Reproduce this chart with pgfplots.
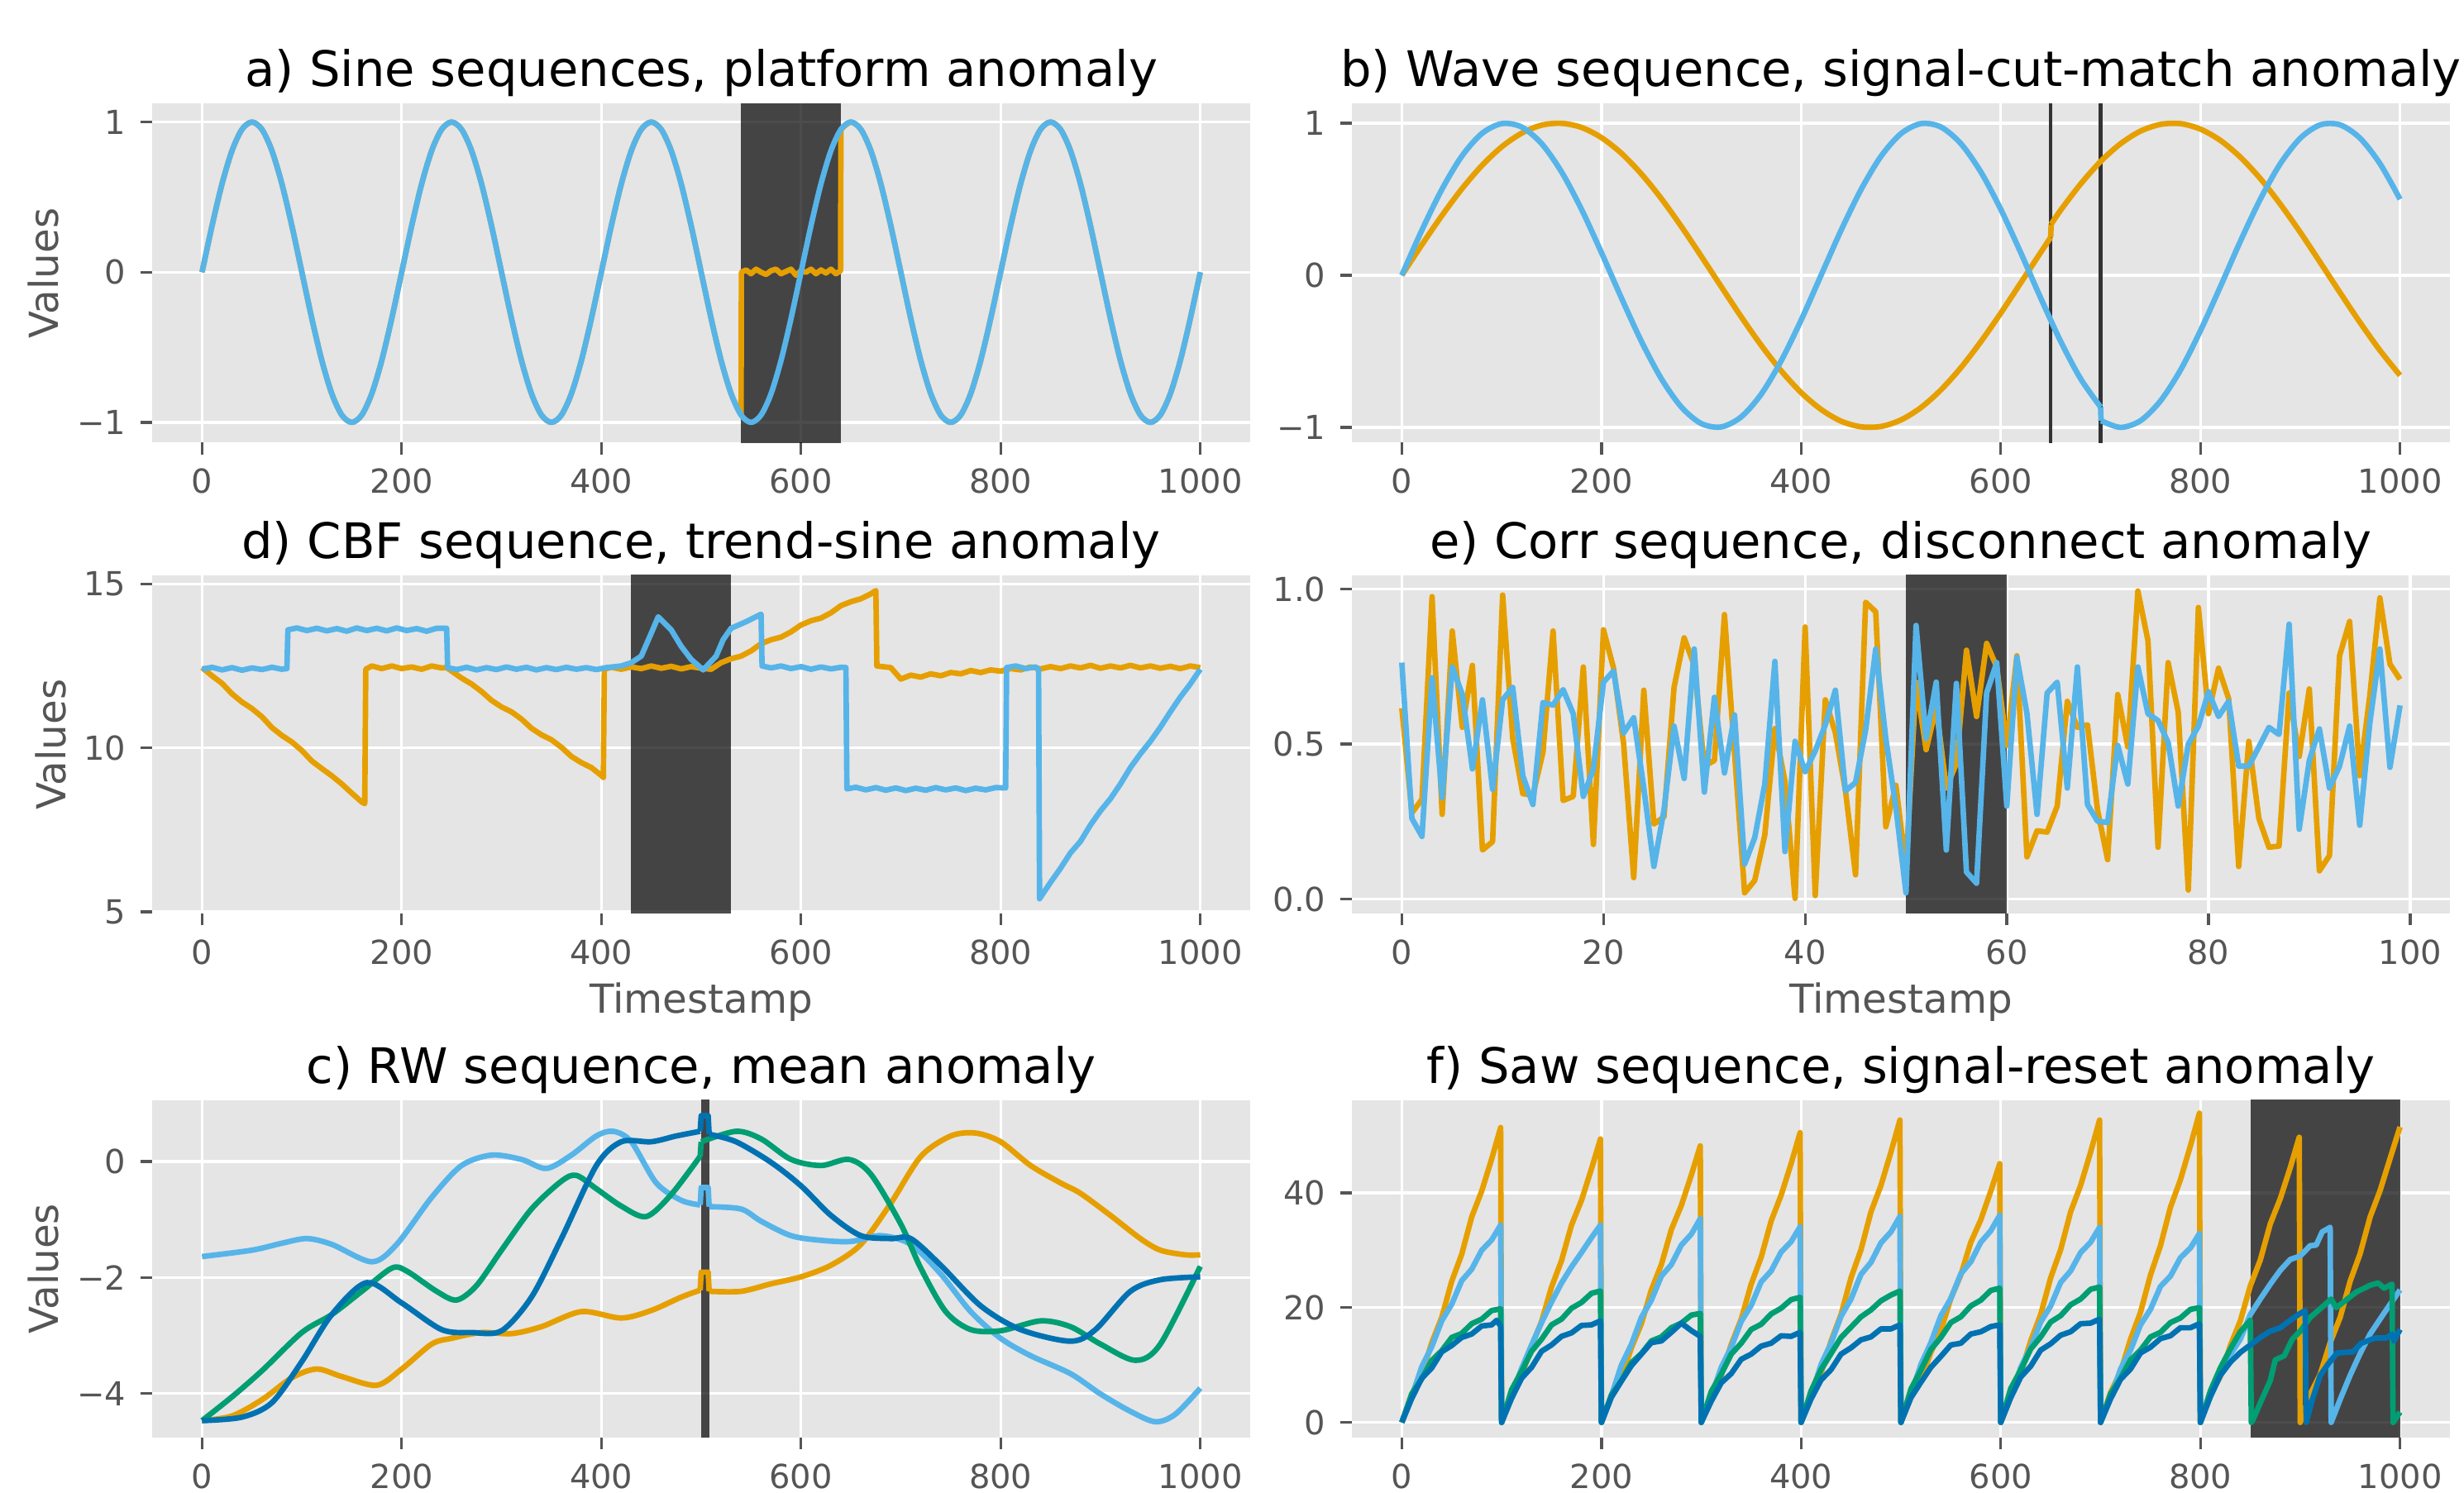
\documentclass[border=0pt]{standalone}
\usepackage{fontspec}
\setmainfont{DejaVu Sans}
\usepackage{pgfplots}
\pgfplotsset{compat=1.18}
\definecolor{cOr}{HTML}{E69F00}
\definecolor{cSky}{HTML}{56B4E9}
\definecolor{cGr}{HTML}{009E73}
\definecolor{cBl}{HTML}{0072B2}
\definecolor{bgG}{HTML}{E5E5E5}
\definecolor{tkG}{HTML}{555555}
\newcommand\tks{\fontsize{9.6pt}{11pt}\selectfont}
\newcommand\lbs{\fontsize{11.6pt}{13pt}\selectfont}
\newcommand\tts{\fontsize{14.2pt}{17pt}\selectfont}
\pgfplotsset{
 panel/.style={
  scale only axis, width=318.72pt,
  axis background/.style={fill=bgG},
  axis line style={draw=none},
  grid=major, major grid style={draw=white, line width=0.8pt},
  tick align=outside, tick pos=left, major tick length=3.4pt,
  tick style={draw=tkG, line width=0.8pt},
  tick label style={font=\tks, text=tkG},
  xticklabel style={anchor=north, inner sep=0pt, yshift=-4pt},
  yticklabel style={anchor=east, inner sep=0pt, xshift=-4pt},
  title style={font=\tts, text=black, at={(axis description cs:0.5,1)}, anchor=base, yshift=-1pt},
  label style={font=\lbs, text=tkG},
  xmin=-50, xmax=1050,
  xtick={0,200,400,600,800,1000}, xticklabels={0,200,400,600,800,1000},
  anchor=south west, no markers,
 },
 ln/.style={line width=1.6pt, line join=round},
 shd/.style={draw=none, fill=black, fill opacity=0.7, forget plot},
}
\begin{document}
\begin{tikzpicture}
\path[use as bounding box] (0,0) rectangle (715.2pt,433.44pt);

% ---------------- a)
\begin{axis}[panel, at={(44.16pt,304.92pt)}, height=98.4pt,
  ymin=-1.135, ymax=1.122, ytick={-1,0,1}, yticklabels={−1,0,1},
  title={a) Sine sequences, platform anomaly},
  ylabel={Values}, ylabel style={at={(axis description cs:-0.0989,0.5)}, anchor=center}]
\addplot[shd] coordinates {(540,-5) (640,-5) (640,5) (540,5)};
\addplot[ln, cOr, smooth] coordinates {(0,0) (10,0.309) (20,0.588) (30,0.809) (40,0.951) (50,1) (60,0.951) (70,0.809) (80,0.588) (90,0.309) (100,0) (110,-0.309) (120,-0.588) (130,-0.809) (140,-0.951) (150,-1) (160,-0.951) (170,-0.809) (180,-0.588) (190,-0.309)
(200,0) (210,0.309) (220,0.588) (230,0.809) (240,0.951) (250,1) (260,0.951) (270,0.809) (280,0.588) (290,0.309) (300,0) (310,-0.309) (320,-0.588) (330,-0.809) (340,-0.951) (350,-1) (360,-0.951) (370,-0.809) (380,-0.588) (390,-0.309)
(400,0) (410,0.309) (420,0.588) (430,0.809) (440,0.951) (450,1) (460,0.951) (470,0.809) (480,0.588) (490,0.309) (500,0) (510,-0.309) (520,-0.588) (530,-0.809) (540,-0.951)};
\addplot[ln, cOr] coordinates {(540,-0.951) (540.3,0.0) (545,0.015) (550,-0.01) (555,0.02) (560,0.0) (565,-0.015) (570,0.01) (575,0.02) (580,-0.01) (585,0.005) (590,0.02) (595,-0.02) (600,0.01) (605,0.0) (610,0.02) (615,-0.01) (620,0.015) (625,-0.005) (630,0.02) (635,-0.01) (639.7,0.01) (640,0.951)};
\addplot[ln, cOr, smooth] coordinates {(640,0.951) (650,1) (660,0.951) (670,0.809) (680,0.588) (690,0.309) (700,0) (710,-0.309) (720,-0.588) (730,-0.809) (740,-0.951) (750,-1) (760,-0.951) (770,-0.809) (780,-0.588) (790,-0.309)
(800,0) (810,0.309) (820,0.588) (830,0.809) (840,0.951) (850,1) (860,0.951) (870,0.809) (880,0.588) (890,0.309) (900,0) (910,-0.309) (920,-0.588) (930,-0.809) (940,-0.951) (950,-1) (960,-0.951) (970,-0.809) (980,-0.588) (990,-0.309) (1000,0)};
\addplot[ln, cSky, smooth] coordinates {(0,0) (10,0.309) (20,0.588) (30,0.809) (40,0.951) (50,1) (60,0.951) (70,0.809) (80,0.588) (90,0.309) (100,0) (110,-0.309) (120,-0.588) (130,-0.809) (140,-0.951) (150,-1) (160,-0.951) (170,-0.809) (180,-0.588) (190,-0.309)
(200,0) (210,0.309) (220,0.588) (230,0.809) (240,0.951) (250,1) (260,0.951) (270,0.809) (280,0.588) (290,0.309) (300,0) (310,-0.309) (320,-0.588) (330,-0.809) (340,-0.951) (350,-1) (360,-0.951) (370,-0.809) (380,-0.588) (390,-0.309)
(400,0) (410,0.309) (420,0.588) (430,0.809) (440,0.951) (450,1) (460,0.951) (470,0.809) (480,0.588) (490,0.309) (500,0) (510,-0.309) (520,-0.588) (530,-0.809) (540,-0.951) (550,-1) (560,-0.951) (570,-0.809) (580,-0.588) (590,-0.309)
(600,0) (610,0.309) (620,0.588) (630,0.809) (640,0.951) (650,1) (660,0.951) (670,0.809) (680,0.588) (690,0.309) (700,0) (710,-0.309) (720,-0.588) (730,-0.809) (740,-0.951) (750,-1) (760,-0.951) (770,-0.809) (780,-0.588) (790,-0.309)
(800,0) (810,0.309) (820,0.588) (830,0.809) (840,0.951) (850,1) (860,0.951) (870,0.809) (880,0.588) (890,0.309) (900,0) (910,-0.309) (920,-0.588) (930,-0.809) (940,-0.951) (950,-1) (960,-0.951) (970,-0.809) (980,-0.588) (990,-0.309) (1000,0)};
\end{axis}

% ---------------- b)
\begin{axis}[panel, at={(392.4pt,304.92pt)}, height=98.4pt,
  ymin=-1.1005, ymax=1.128, ytick={-1,0,1}, yticklabels={−1,0,1},
  title={b) Wave sequence, signal-cut-match anomaly}]
\addplot[forget plot, draw=black!80, line width=1pt] coordinates {(650,-5) (650,5)};
\addplot[forget plot, draw=black!80, line width=1pt] coordinates {(700,-5) (700,5)};
\addplot[ln, cOr, smooth] coordinates {(0,0) (20,0.200) (40,0.391) (60,0.567) (80,0.720) (100,0.844) (120,0.934) (140,0.987) (160,0.999) (180,0.972) (200,0.905) (220,0.802) (240,0.666) (260,0.504) (280,0.321) (300,0.125) (320,-0.075) (340,-0.273) (360,-0.460) (380,-0.628) (400,-0.771) (420,-0.882) (440,-0.959) (460,-0.996) (480,-0.994) (500,-0.951) (520,-0.870) (540,-0.754) (560,-0.608) (580,-0.437) (600,-0.249) (620,-0.050) (640,0.150) (650,0.249)};
\addplot[ln, cOr] coordinates {(650,0.249) (650.5,0.335)};
\addplot[ln, cOr, smooth] coordinates {(650.5,0.335) (660,0.428) (680,0.600) (700,0.748) (720,0.865) (740,0.948) (760,0.992) (780,0.997) (800,0.961) (820,0.887) (840,0.777) (860,0.636) (880,0.468) (900,0.283) (920,0.085) (940,-0.115) (960,-0.311) (980,-0.495) (1000,-0.658)};
\addplot[ln, cSky, smooth] coordinates {(0,0) (20,0.295) (40,0.563) (60,0.782) (80,0.931) (100,0.997) (120,0.975) (140,0.866) (160,0.680) (180,0.434) (200,0.149) (220,-0.149) (240,-0.434) (260,-0.680) (280,-0.866) (300,-0.975) (320,-0.997) (340,-0.931) (360,-0.782) (380,-0.563) (400,-0.295) (420,0) (440,0.295) (460,0.563) (480,0.782) (500,0.931) (520,0.997) (540,0.975) (560,0.866) (580,0.680) (600,0.434) (620,0.149) (640,-0.149) (660,-0.434) (680,-0.680) (700,-0.866)};
\addplot[ln, cSky] coordinates {(700,-0.866) (700.5,-0.956)};
\addplot[ln, cSky, smooth] coordinates {(700.5,-0.956) (720,-1) (740,-0.956) (760,-0.826) (780,-0.624) (800,-0.365) (820,-0.075) (840,0.223) (860,0.5) (880,0.733) (900,0.901) (920,0.989) (940,0.989) (960,0.901) (980,0.733) (1000,0.5)};
\end{axis}

% ---------------- d)
\begin{axis}[panel, at={(44.16pt,168.24pt)}, height=98.16pt,
  ymin=4.95, ymax=15.264, ytick={5,10,15}, yticklabels={5,10,15},
  title={d) CBF sequence, trend-sine anomaly},
  ylabel={Values}, ylabel style={at={(axis description cs:-0.0919,0.5)}, anchor=center},
  xlabel={Timestamp}, xlabel style={at={(axis description cs:0.5,-0.262)}, anchor=center}]
\addplot[shd] coordinates {(430,0) (530,0) (530,20) (430,20)};
\addplot[ln, cOr] coordinates {(0,12.45) (10,12.2) (20,11.97) (30,11.65) (40,11.40) (50,11.2) (60,10.95) (70,10.62) (80,10.38) (90,10.18) (100,9.92) (110,9.6) (120,9.37) (130,9.15) (140,8.90) (150,8.62) (160,8.35) (163,8.30) (164,12.40) (170,12.5) (180,12.42) (190,12.5) (200,12.42) (210,12.47) (220,12.4) (230,12.5) (240,12.44) (245,12.45) (260,12.13) (270,11.95) (280,11.72) (290,11.45) (300,11.25) (310,11.1) (320,10.88) (330,10.6) (340,10.40) (350,10.25) (360,10.02) (370,9.74) (380,9.55) (390,9.4) (400,9.16) (402,9.10) (403,12.40) (410,12.46) (420,12.40) (430,12.47) (440,12.42) (450,12.5) (460,12.43) (470,12.49) (480,12.41) (490,12.48) (500,12.43) (510,12.40) (520,12.6) (530,12.72) (540,12.8) (550,12.96) (560,13.18) (570,13.30) (580,13.38) (590,13.54) (600,13.75) (610,13.88) (620,13.96) (630,14.12) (640,14.34) (650,14.46) (660,14.55) (670,14.70) (675,14.80) (676,12.50) (690,12.45) (700,12.10) (710,12.22) (720,12.16) (730,12.26) (740,12.2) (750,12.3) (760,12.26) (770,12.36) (780,12.3) (790,12.38) (800,12.34) (810,12.42) (820,12.38) (830,12.47) (840,12.41) (850,12.48) (860,12.42) (870,12.5) (880,12.44) (890,12.52) (900,12.43) (910,12.5) (920,12.44) (930,12.52) (940,12.44) (950,12.5) (960,12.43) (970,12.49) (980,12.42) (990,12.5) (1000,12.45)};
\addplot[ln, cSky] coordinates {(0,12.40) (10,12.46) (20,12.38) (30,12.45) (40,12.37) (50,12.44) (60,12.39) (70,12.46) (80,12.40) (85,12.42) (86,13.60) (95,13.66) (105,13.58) (115,13.65) (125,13.57) (135,13.64) (145,13.56) (155,13.66) (165,13.58) (175,13.65) (185,13.57) (195,13.66) (205,13.58) (215,13.64) (225,13.56) (235,13.65) (245,13.65) (246,12.45) (255,12.39) (265,12.46) (275,12.38) (285,12.45) (295,12.39) (305,12.47) (315,12.4) (325,12.46) (335,12.38) (345,12.45) (355,12.39) (365,12.46) (375,12.4) (385,12.45) (395,12.39) (405,12.45) (420,12.5) (430,12.6) (440,12.8) (450,13.5) (457,14.0) (470,13.6) (480,13.1) (490,12.7) (502,12.38) (515,12.8) (522,13.3) (530,13.65) (545,13.85) (558,14.05) (560,14.08) (561,12.5) (570,12.44) (580,12.5) (590,12.42) (600,12.48) (610,12.4) (620,12.47) (630,12.41) (640,12.46) (645,12.45) (646,8.75) (655,8.8) (665,8.72) (675,8.79) (685,8.71) (695,8.78) (705,8.7) (715,8.77) (725,8.71) (735,8.79) (745,8.72) (755,8.78) (765,8.7) (775,8.77) (785,8.72) (795,8.79) (805,8.78) (806,12.45) (815,12.5) (825,12.42) (835,12.47) (838,12.40) (839,5.40) (850,5.9) (860,6.33) (870,6.8) (880,7.15) (890,7.65) (900,8.08) (910,8.45) (920,8.90) (930,9.4) (940,9.82) (950,10.2) (960,10.63) (970,11.1) (980,11.55) (990,11.95) (1000,12.40)};
\end{axis}

% ---------------- e)
\begin{axis}[panel, at={(392.4pt,168.24pt)}, height=98.16pt,
  xmin=-4.95, xmax=103.95, xtick={0,20,40,60,80,100}, xticklabels={0,20,40,60,80,100},
  ymin=-0.0467, ymax=1.0446, ytick={0,0.5,1}, yticklabels={0.0,0.5,1.0},
  title={e) Corr sequence, disconnect anomaly},
  xlabel={Timestamp}, xlabel style={at={(axis description cs:0.5,-0.262)}, anchor=center}]
\addplot[shd] coordinates {(50,-1) (60,-1) (60,2) (50,2)};
\addplot[ln, cOr] coordinates {(0,0.616)(1,0.278)(2,0.322)(3,0.976)(4,0.273)(5,0.865)(6,0.554)(7,0.754)(8,0.158)(9,0.185)(10,0.981)(11,0.518)(12,0.340)(13,0.335)(14,0.474)(15,0.865)(16,0.318)(17,0.331)(18,0.749)(19,0.176)(20,0.869)(21,0.745)(22,0.500)(23,0.069)(24,0.674)(25,0.242)(26,0.265)(27,0.683)(28,0.843)(29,0.754)(30,0.429)(31,0.447)(32,0.918)(33,0.470)(34,0.020)(35,0.060)(36,0.207)(37,0.550)(38,0.380)(39,0.002)(40,0.878)(41,0.011)(42,0.643)(43,0.536)(44,0.349)(45,0.078)(46,0.958)(47,0.927)(48,0.233)(49,0.367)(50,0.100)(51,0.700)(52,0.482)(53,0.620)(54,0.358)(55,0.438)(56,0.803)(57,0.589)(58,0.825)(59,0.749)(60,0.496)(61,0.785)(62,0.136)(63,0.220)(64,0.216)(65,0.300)(66,0.638)(67,0.554)(68,0.562)(69,0.287)(70,0.127)(71,0.660)(72,0.491)(73,0.994)(74,0.834)(75,0.167)(76,0.763)(77,0.603)(78,0.029)(79,0.941)(80,0.598)(81,0.745)(82,0.647)(83,0.105)(84,0.509)(85,0.260)(86,0.167)(87,0.171)(88,0.665)(89,0.460)(90,0.678)(91,0.091)(92,0.140)(93,0.785)(94,0.896)(95,0.398)(96,0.656)(97,0.972)(98,0.758)(99,0.709)};
\addplot[ln, cSky] coordinates {(0,0.763)(1,0.260)(2,0.202)(3,0.714)(4,0.327)(5,0.749)(6,0.660)(7,0.420)(8,0.643)(9,0.354)(10,0.643)(11,0.683)(12,0.398)(13,0.305)(14,0.634)(15,0.626)(16,0.676)(17,0.598)(18,0.331)(19,0.420)(20,0.700)(21,0.736)(22,0.536)(23,0.585)(24,0.358)(25,0.105)(26,0.287)(27,0.558)(28,0.389)(29,0.807)(30,0.345)(31,0.651)(32,0.407)(33,0.594)(34,0.113)(35,0.198)(36,0.371)(37,0.767)(38,0.153)(39,0.509)(40,0.411)(41,0.478)(42,0.562)(43,0.674)(44,0.349)(45,0.376)(46,0.545)(47,0.807)(48,0.518)(49,0.296)(50,0.020)(51,0.883)(52,0.518)(53,0.700)(54,0.158)(55,0.696)(56,0.087)(57,0.051)(58,0.665)(59,0.763)(60,0.300)(61,0.780)(62,0.598)(63,0.273)(64,0.665)(65,0.700)(66,0.358)(67,0.749)(68,0.305)(69,0.251)(70,0.247)(71,0.496)(72,0.371)(73,0.749)(74,0.598)(75,0.576)(76,0.505)(77,0.300)(78,0.500)(79,0.558)(80,0.669)(81,0.589)(82,0.638)(83,0.429)(84,0.429)(85,0.491)(86,0.554)(87,0.531)(88,0.887)(89,0.225)(90,0.447)(91,0.549)(92,0.358)(93,0.429)(94,0.558)(95,0.238)(96,0.567)(97,0.807)(98,0.425)(99,0.625)};
\end{axis}

% ---------------- c)
\begin{axis}[panel, at={(44.16pt,16.08pt)}, height=97.92pt,
  ymin=-4.763, ymax=1.055, ytick={-4,-2,0}, yticklabels={−4,−2,0},
  title={c) RW sequence, mean anomaly},
  ylabel={Values}, ylabel style={at={(axis description cs:-0.0989,0.5)}, anchor=center}]
\addplot[shd] coordinates {(500,-10) (508,-10) (508,10) (500,10)};
\addplot[ln, cOr, smooth] coordinates {(0,-4.47) (30,-4.39) (60,-4.11) (90,-3.73) (115,-3.58) (140,-3.71) (175,-3.86) (200,-3.58) (230,-3.15) (250,-3.05) (280,-2.95) (310,-2.97) (340,-2.85) (380,-2.59) (420,-2.70) (450,-2.57) (480,-2.34) (499,-2.22)};
\addplot[ln, cOr] coordinates {(499,-2.22) (500,-1.91) (507,-1.91) (508,-2.24)};
\addplot[ln, cOr, smooth] coordinates {(508,-2.24) (540,-2.24) (570,-2.11) (600,-1.99) (630,-1.79) (660,-1.43) (690,-0.72) (720,0.086) (750,0.44) (775,0.49) (800,0.34) (830,-0.07) (860,-0.37) (880,-0.55) (910,-0.93) (940,-1.33) (960,-1.53) (985,-1.61) (1000,-1.61)};
\addplot[ln, cSky, smooth] coordinates {(0,-1.64) (50,-1.53) (80,-1.41) (105,-1.33) (130,-1.43) (170,-1.73) (195,-1.43) (230,-0.62) (260,-0.07) (290,0.11) (320,0.035) (345,-0.12) (370,0.11) (395,0.44) (412,0.52) (430,0.34) (455,-0.37) (480,-0.67) (499,-0.75)};
\addplot[ln, cSky] coordinates {(499,-0.75) (500,-0.45) (507,-0.45) (508,-0.78)};
\addplot[ln, cSky, smooth] coordinates {(508,-0.78) (540,-0.82) (560,-1.03) (590,-1.28) (620,-1.36) (650,-1.38) (680,-1.28) (710,-1.43) (740,-1.94) (770,-2.59) (800,-3.05) (830,-3.35) (870,-3.66) (900,-4.01) (930,-4.31) (955,-4.49) (975,-4.36) (1000,-3.91)};
\addplot[ln, cGr, smooth] coordinates {(0,-4.47) (30,-4.06) (60,-3.61) (100,-2.95) (130,-2.64) (160,-2.24) (190,-1.84) (205,-1.89) (235,-2.24) (255,-2.39) (275,-2.14) (300,-1.53) (330,-0.82) (360,-0.34) (375,-0.24) (395,-0.47) (420,-0.77) (445,-0.95) (470,-0.57) (499,0.09)};
\addplot[ln, cGr] coordinates {(499,0.09) (500,0.34)};
\addplot[ln, cGr, smooth] coordinates {(500,0.34) (535,0.52) (560,0.39) (590,0.035) (620,-0.07) (648,0.035) (670,-0.22) (700,-1.08) (720,-1.84) (745,-2.59) (770,-2.90) (800,-2.92) (840,-2.75) (870,-2.85) (900,-3.15) (935,-3.43) (960,-3.15) (1000,-1.81)};
\addplot[ln, cBl, smooth] coordinates {(0,-4.47) (40,-4.41) (70,-4.16) (100,-3.45) (130,-2.64) (165,-2.09) (200,-2.44) (240,-2.90) (270,-2.95) (300,-2.92) (330,-2.34) (360,-1.33) (395,-0.07) (420,0.34) (450,0.34) (475,0.44) (499,0.52)};
\addplot[ln, cBl] coordinates {(499,0.52) (500,0.79) (507,0.79) (508,0.47)};
\addplot[ln, cBl, smooth] coordinates {(508,0.47) (535,0.34) (570,-0.015) (600,-0.42) (630,-0.93) (660,-1.28) (690,-1.33) (710,-1.33) (740,-1.79) (780,-2.49) (820,-2.90) (870,-3.10) (895,-2.90) (930,-2.24) (960,-2.04) (1000,-1.99)};
\end{axis}

% ---------------- f)
\begin{axis}[panel, at={(392.4pt,16.08pt)}, height=97.92pt,
  ymin=-2.65, ymax=56.14, ytick={0,20,40}, yticklabels={0,20,40},
  title={f) Saw sequence, signal-reset anomaly}]
\addplot[shd] coordinates {(850,-10) (1000,-10) (1000,70) (850,70)};
\addplot[ln, cOr] coordinates {(0,0)(10,4.9)(20,8.3)(30,13.9)(40,18.3)(50,24.6)(60,29.3)(70,35.8)(80,40.3)(90,45.9)(99,51.4)
(100,0)(110,4.7)(120,8.0)(130,13.3)(140,17.6)(150,23.6)(160,28.2)(170,34.4)(180,38.7)(190,44.2)(199,49.4)
(200,0)(210,4.6)(220,7.8)(230,13.0)(240,17.2)(250,23.1)(260,27.5)(270,33.6)(280,37.8)(290,43.1)(299,48.2)
(300,0)(310,4.8)(320,8.2)(330,13.6)(340,18.0)(350,24.1)(360,28.8)(370,35.1)(380,39.6)(390,45.1)(399,50.5)
(400,0)(410,5.0)(420,8.6)(430,14.2)(440,18.8)(450,25.2)(460,30.1)(470,36.7)(480,41.3)(490,47.1)(499,52.7)
(500,0)(510,4.4)(520,7.3)(530,12.2)(540,16.0)(550,21.6)(560,25.7)(570,31.4)(580,35.3)(590,40.3)(599,45.1)
(600,0)(610,5.0)(620,8.6)(630,14.2)(640,18.8)(650,25.2)(660,30.1)(670,36.7)(680,41.3)(690,47.1)(699,52.7)
(700,0)(710,5.2)(720,8.8)(730,14.5)(740,19.2)(750,25.7)(760,30.8)(770,37.5)(780,42.3)(790,48.2)(799,53.9)
(800,0)(810,4.8)(820,8.0)(830,13.4)(840,17.7)(850,23.8)(860,28.3)(870,34.6)(880,39.0)(890,44.4)(899,49.7)
(900,0)(910,4.9)(920,8.4)(930,13.9)(940,18.3)(950,24.6)(960,29.4)(970,35.8)(980,40.4)(990,46.0)(1000,51.5)};
\addplot[ln, cSky] coordinates {(0,0)(10,4.5)(20,9.7)(30,13.2)(40,17.7)(50,20.6)(60,24.7)(70,26.7)(80,30.0)(90,31.8)(99,34.4)
(100,0)(110,4.8)(120,9.4)(130,13.5)(140,17.4)(150,21.0)(160,24.3)(170,27.1)(180,29.6)(190,32.2)(199,34.4)
(200,0)(210,4.7)(220,10.0)(230,13.6)(240,18.3)(250,21.3)(260,25.5)(270,27.5)(280,30.9)(290,32.8)(299,35.5)
(300,0)(310,4.5)(320,9.6)(330,13.1)(340,17.6)(350,20.4)(360,24.5)(370,26.4)(380,29.7)(390,31.5)(399,34.1)
(400,0)(410,4.7)(420,10.1)(430,13.8)(440,18.5)(450,21.5)(460,25.8)(470,27.9)(480,31.3)(490,33.2)(499,35.9)
(500,0)(510,4.8)(520,10.1)(530,13.9)(540,18.6)(550,21.6)(560,25.9)(570,28.0)(580,31.4)(590,33.4)(599,36.1)
(600,0)(610,4.5)(620,9.6)(630,13.1)(640,17.5)(650,20.3)(660,24.4)(670,26.4)(680,29.6)(690,31.4)(699,34.0)
(700,0)(710,4.3)(720,9.3)(730,12.6)(740,17.0)(750,19.7)(760,23.7)(770,25.5)(780,28.7)(790,30.4)(799,32.9)
(800,0)(810,4.5)(820,8.5)(830,11.8)(840,14.5)(850,18.8)(860,21.5)(870,24.1)(880,26.5)(890,28.4)(900,29.0)(910,30.8)(916,30.9)(922,33.2)(930,34.0)(931,0)(940,4.0)(950,8.2)(960,12.0)(970,15.4)(985,19.3)(1000,23.1)};
\addplot[ln, cGr] coordinates {(0,0)(10,5.0)(20,7.6)(30,10.8)(40,12.5)(50,14.8)(60,15.5)(70,17.2)(80,18.0)(90,19.5)(99,19.8)
(100,0)(110,5.7)(120,8.9)(130,12.4)(140,14.5)(150,17.0)(160,18.0)(170,19.9)(180,20.9)(190,22.5)(199,22.9)
(200,0)(210,4.8)(220,7.3)(230,10.4)(240,12.0)(250,14.2)(260,14.9)(270,16.5)(280,17.3)(290,18.7)(299,19.0)
(300,0)(310,5.4)(320,8.4)(330,11.9)(340,13.8)(350,16.2)(360,17.1)(370,18.9)(380,19.9)(390,21.4)(399,21.8)
(400,0)(410,5.5)(420,9.2)(430,12.0)(440,14.8)(450,16.6)(460,18.4)(470,19.6)(480,21.2)(490,22.2)(499,22.9)
(500,0)(510,5.8)(520,9.1)(530,12.7)(540,14.8)(550,17.4)(560,18.4)(570,20.3)(580,21.3)(590,23.0)(599,23.4)
(600,0)(610,5.9)(620,9.1)(630,12.8)(640,14.9)(650,17.5)(660,18.6)(670,20.5)(680,21.5)(690,23.2)(699,23.6)
(700,0)(710,5.0)(720,7.7)(730,10.9)(740,12.6)(750,14.9)(760,15.7)(770,17.4)(780,18.2)(790,19.7)(799,20.0)
(800,0)(810,5.5)(820,9.5)(830,12.8)(840,15.8)(850,17.8)(851,0)(853,0.6)(860,3.4)(870,7.3)(875,10.9)(884,11.6)(892,14.5)(900,15.9)(910,18.3)(920,19.8)(931,21.5)(936,20.0)(945,21.2)(956,22.7)(970,23.9)(978,24.3)(984,23.4)(992,24.1)(993,0)(1000,1.8)};
\addplot[ln, cBl] coordinates {(0,0)(10,4.2)(20,7.7)(30,9.5)(40,12.3)(50,13.4)(60,14.8)(70,15.4)(80,16.8)(90,17.0)(95,17.8)(99,16.8)
(100,0)(110,4.2)(120,7.7)(130,9.6)(140,12.4)(150,13.5)(160,15.0)(170,15.6)(180,16.9)(190,17.0)(199,17.7)
(200,0)(210,4.4)(220,7.2)(230,9.9)(240,11.9)(250,13.9)(260,14.2)(270,15.7)(280,17.3)(290,16.0)(299,15.0)
(300,0)(310,3.7)(320,6.9)(330,8.5)(340,11.0)(350,11.9)(360,13.3)(370,13.8)(380,15.1)(390,15.0)(399,15.7)
(400,0)(410,4.1)(420,7.4)(430,9.2)(440,11.9)(450,13.0)(460,14.4)(470,14.9)(480,16.3)(490,16.3)(499,17.0)
(500,0)(510,4.3)(520,7.0)(530,9.6)(540,11.5)(550,13.5)(560,13.8)(570,15.4)(580,15.8)(590,16.7)(599,17.0)
(600,0)(610,4.3)(620,7.9)(630,9.8)(640,12.6)(650,13.7)(660,15.2)(670,15.8)(680,17.2)(690,17.3)(699,18.0)
(700,0)(710,4.1)(720,7.5)(730,9.3)(740,12.1)(750,13.1)(760,14.6)(770,15.1)(780,16.5)(790,16.5)(799,17.2)
(800,0)(810,4.5)(820,8.2)(830,10.5)(840,12.2)(850,13.5)(860,14.8)(870,15.9)(880,16.5)(890,17.8)(900,19.0)(905,19.5)(906,0)(912,3.9)(920,8.2)(928,10.2)(937,12.1)(953,12.3)(961,13.8)(975,14.7)(986,14.7)(992,15.4)(994,14.2)(1000,16.2)};
\end{axis}
\end{tikzpicture}
\end{document}
